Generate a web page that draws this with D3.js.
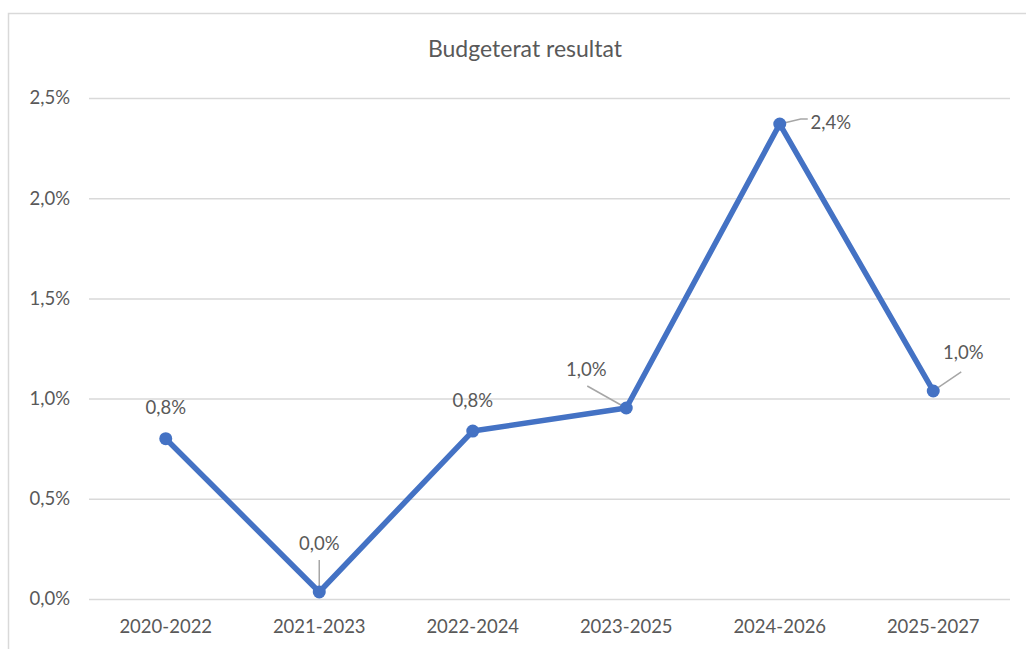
<!DOCTYPE html>
<html>
<head>
<meta charset="utf-8">
<script src="https://cdn.jsdelivr.net/npm/d3@7"></script>
<style>
  body { margin: 0; background: #fff; }
  text { font-family: Lato, "Open Sans", sans-serif; fill: #595959; }
</style>
</head>
<body>
<div id="chart"></div>
<script>
// data
const categories = ["2020-2022", "2021-2023", "2022-2024", "2023-2025", "2024-2026", "2025-2027"];
const values = [0.80, 0.035, 0.838, 0.953, 2.37, 1.038]; // percent
const yTicks = [0, 0.5, 1.0, 1.5, 2.0, 2.5];

let width = 1026, height = 649,
    margin = ({ top: 98, right: 16, bottom: 50, left: 89 });

// label offsets relative to the point, and where the leader line ends (null = none)
const labelPos = [
  { dx: 0, dy: -25, lx: null, ly: null },
  { dx: 0, dy: -42, lx: 0, ly: -32 },
  { dx: 0, dy: -24, lx: null, ly: null },
  { dx: -40, dy: -32, lx: -39, ly: -22 },
  { dx: 51, dy: 5, lx: 21, ly: -5 },
  { dx: 30, dy: -32, lx: 28, ly: -19 }
];

const svg = d3.select("#chart")
  .append("svg")
  .attr("width", width)
  .attr("height", height);

// outer chart border
svg.append("rect")
  .attr("x", 8.5).attr("y", 13.5)
  .attr("width", 1030).attr("height", 650)
  .attr("fill", "none")
  .attr("stroke", "#d9d9d9")
  .attr("stroke-width", 1.5);

svg.append("text")
  .attr("x", 525).attr("y", 57)
  .attr("text-anchor", "middle")
  .attr("font-size", 23)
  .text("Budgeterat resultat");

let x = d3.scaleBand()
  .domain(categories)
  .range([margin.left, width - margin.right])
  .padding(0);

let y = d3.scaleLinear()
  .domain([0, 2.5])
  .range([height - margin.bottom, margin.top]);

const fmt = v => v.toFixed(1).replace(".", ",") + "%";

// gridlines + y labels
svg.append("g")
  .attr("class", "y-axis")
  .attr("transform", `translate(${margin.left},0)`)
  .call(d3.axisLeft(y).tickValues(yTicks).tickFormat(fmt)
    .tickSize(-(width - margin.left - margin.right)).tickPadding(19))
  .call(g => g.select(".domain").remove())
  .call(g => g.selectAll(".tick line").attr("stroke", "#d9d9d9").attr("stroke-width", 1.5))
  .call(g => g.selectAll(".tick text").attr("font-size", 18.5).attr("fill", "#595959"));

// x labels
svg.append("g")
  .attr("class", "x-axis")
  .attr("transform", `translate(0,${height - margin.bottom})`)
  .call(d3.axisBottom(x).tickSize(0).tickPadding(21))
  .call(g => g.select(".domain").remove())
  .call(g => g.selectAll(".tick text").attr("font-size", 18.5).attr("fill", "#595959"));

const pts = values.map((v, i) => ({ v, cat: categories[i], lab: labelPos[i] }));
const cx = d => x(d.cat) + x.bandwidth() / 2;

// leader lines
svg.append("g")
  .attr("fill", "none")
  .attr("stroke", "#a6a6a6")
  .attr("stroke-width", 1.5)
  .selectAll("polyline")
  .data(pts.filter(d => d.lab.lx !== null))
  .join("polyline")
  .attr("points", d => {
    const p = [[cx(d), y(d.v)], [cx(d) + d.lab.lx, y(d.v) + d.lab.ly]];
    if (d.cat === "2024-2026") p.push([cx(d) + d.lab.lx + 7, y(d.v) + d.lab.ly]);
    return p.map(q => q.join(",")).join(" ");
  });

// line
svg.append("path")
  .datum(pts)
  .attr("fill", "none")
  .attr("stroke", "#4472c4")
  .attr("stroke-width", 5.5)
  .attr("stroke-linejoin", "round")
  .attr("d", d3.line().x(cx).y(d => y(d.v)));

svg.append("g")
  .attr("fill", "#4472c4")
  .selectAll("circle")
  .data(pts)
  .join("circle")
  .attr("cx", cx)
  .attr("cy", d => y(d.v))
  .attr("r", 6.5);

// data labels
svg.append("g")
  .selectAll("text")
  .data(pts)
  .join("text")
  .attr("x", d => cx(d) + d.lab.dx)
  .attr("y", d => y(d.v) + d.lab.dy)
  .attr("text-anchor", "middle")
  .attr("font-size", 18.5)
  .attr("fill", "#595959")
  .text(d => fmt(d.v));
</script>
</body>
</html>
